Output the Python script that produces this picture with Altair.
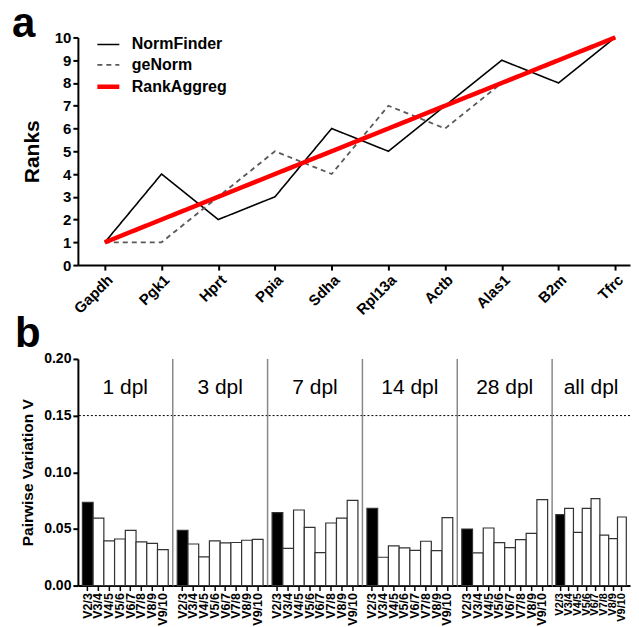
import altair as alt
import pandas as pd

FONT = "Liberation Sans"

# ---------- panel a data ----------
genes = ["Gapdh", "Pgk1", "Hprt", "Ppia", "Sdha", "Rpl13a", "Actb", "Alas1", "B2m", "Tfrc"]
normfinder = [1, 4, 2, 3, 6, 5, 7, 9, 8, 10]
genorm = [1, 1, 3, 5, 4, 7, 6, 8, 9, 10]
rankaggreg = [1, 2, 3, 4, 5, 6, 7, 8, 9, 10]
methods = ["NormFinder", "geNorm", "RankAggreg"]
method_colors = ["#000000", "#5a5a5a", "#ff0000"]
method_dash = [[1, 0], [5, 4], [1, 0]]
method_width = [1.6, 1.8, 4.5]

# ---------- panel b data ----------
pairs = ["V2/3", "V3/4", "V4/5", "V5/6", "V6/7", "V7/8", "V8/9", "V9/10"]
groups = ["1 dpl", "3 dpl", "7 dpl", "14 dpl", "28 dpl", "all dpl"]
v_1dpl = [0.0734, 0.0596, 0.0394, 0.0411, 0.0487, 0.0385, 0.0373, 0.0317]
v_3dpl = [0.0487, 0.0367, 0.0253, 0.0394, 0.0376, 0.0380, 0.0400, 0.0408]
v_7dpl = [0.0643, 0.0329, 0.0667, 0.0514, 0.0291, 0.0552, 0.0596, 0.0752]
v_14dpl = [0.0681, 0.0250, 0.0350, 0.0332, 0.0311, 0.0391, 0.0308, 0.0599]
v_28dpl = [0.0499, 0.0288, 0.0508, 0.0379, 0.0335, 0.0405, 0.0461, 0.0758]
v_all = [0.0626, 0.0681, 0.0470, 0.0681, 0.0767, 0.0446, 0.0414, 0.0605]
group_values = [v_1dpl, v_3dpl, v_7dpl, v_14dpl, v_28dpl, v_all]
cutoff = 0.15

# ---------- panel a ----------
series = {"NormFinder": normfinder, "geNorm": genorm, "RankAggreg": rankaggreg}
rows = []
for m in methods:
    for g, r in zip(genes, series[m]):
        rows.append({"gene": g, "rank": r, "method": m})
rank_df = pd.DataFrame(rows)

TOP_W, TOP_H = 553, 228

legend_kw = dict(
    title=None, orient="none", legendX=17, legendY=-5, symbolType="stroke",
    symbolSize=484, labelFontSize=16, labelFontWeight="bold", labelFont=FONT,
    labelColor="black", labelOffset=10, rowPadding=0.5, padding=0,
)

x_top = alt.X(
    "gene:N", sort=genes,
    scale=alt.Scale(type="point", padding=0.3675, align=0.646),
    axis=alt.Axis(title=None, labelAngle=-45, labelFontSize=15, labelFontWeight="bold",
                  tickSize=5, tickWidth=2, domainWidth=2, labelPadding=2),
)
y_top = alt.Y(
    "rank:Q", scale=alt.Scale(domain=[0, 10], nice=False),
    axis=alt.Axis(title="Ranks", values=list(range(11)), titleFontSize=21,
                  titleFontWeight="bold", labelFontSize=15, labelFontWeight="bold",
                  tickSize=5, tickWidth=2, domainWidth=2, labelPadding=2,
                  titlePadding=12, grid=False),
)

base = alt.Chart(rank_df).mark_line().encode(
    x=x_top, y=y_top,
    color=alt.Color("method:N", scale=alt.Scale(domain=methods, range=method_colors),
                    legend=alt.Legend(**legend_kw)),
    strokeDash=alt.StrokeDash("method:N", scale=alt.Scale(domain=methods, range=method_dash),
                              legend=alt.Legend(**legend_kw)),
    strokeWidth=alt.StrokeWidth("method:N",
                                scale=alt.Scale(type="ordinal", domain=methods, range=method_width),
                                legend=alt.Legend(**legend_kw)),
)
line_layers = [base.transform_filter(alt.datum.method == m) for m in methods]

label_a = alt.Chart(pd.DataFrame({"t": ["a"]})).mark_text(
    font=FONT, fontSize=42, fontWeight="bold", align="left", baseline="alphabetic",
    color="black",
).encode(text="t:N", x=alt.value(-66), y=alt.value(0))

top = alt.layer(*line_layers, label_a).properties(width=TOP_W, height=TOP_H)

# ---------- panel b ----------
BOT_H = 227
widths = [95, 95, 95, 95, 95, 78]

panels = []
for i, (g, vals, w) in enumerate(zip(groups, group_values, widths)):
    df = pd.DataFrame({"pair": pairs, "v": vals})
    x_enc = alt.X(
        "pair:N", sort=pairs,
        scale=alt.Scale(paddingInner=0, paddingOuter=0.42),
        axis=alt.Axis(title=None, labelAngle=-90,
                      labelFontSize=12.5 if w > 90 else 11, labelFontWeight="bold",
                      tickSize=5, tickWidth=1.5, domainWidth=2, labelPadding=2),
    )
    if i == 0:
        y_axis = alt.Axis(title="Pairwise Variation V", values=[0, 0.05, 0.1, 0.15, 0.2],
                          format=".2f", titleFontSize=15.5, titleFontWeight="bold",
                          labelFontSize=14, labelFontWeight="bold", tickSize=5,
                          tickWidth=2, domainWidth=2, labelPadding=2, titlePadding=8,
                          grid=False)
    else:
        y_axis = None
    y_enc = alt.Y("v:Q", scale=alt.Scale(domain=[0, 0.2], nice=False), axis=y_axis)

    bars = alt.Chart(df).mark_bar(stroke="#333333", strokeWidth=1.2).encode(
        x=x_enc, y=y_enc,
        fill=alt.condition(alt.datum.pair == "V2/3", alt.value("black"), alt.value("white")),
    )
    cut = alt.Chart(pd.DataFrame({"v": [cutoff]})).mark_rule(
        color="black", strokeDash=[2, 2], strokeWidth=1
    ).encode(y=alt.Y("v:Q"))
    head = alt.Chart(pd.DataFrame({"g": [g]})).mark_text(
        font=FONT, fontSize=21, align="center", baseline="alphabetic", color="black"
    ).encode(text="g:N", x=alt.value(w / 2), y=alt.value(35))
    layers = [bars, cut, head]
    if i > 0:
        sep = alt.Chart(pd.DataFrame({"s": [0]})).mark_rule(
            color="#888888", strokeWidth=1.5
        ).encode(x=alt.value(0), y=alt.value(0), y2=alt.value(BOT_H))
        layers.append(sep)
    else:
        label_b = alt.Chart(pd.DataFrame({"t": ["b"]})).mark_text(
            font=FONT, fontSize=42, fontWeight="bold", align="left",
            baseline="alphabetic", color="black",
        ).encode(text="t:N", x=alt.value(-63), y=alt.value(-12))
        layers.append(label_b)
    panels.append(alt.layer(*layers).properties(width=w, height=BOT_H))

bottom = alt.hconcat(*panels, spacing=0, bounds="flush")

chart = alt.vconcat(top, bottom, spacing=94, bounds="flush").properties(
    padding={"left": 4, "top": -5, "right": 0, "bottom": 0}
).configure_view(stroke=None).configure_axis(
    labelFont=FONT, titleFont=FONT, labelColor="black", titleColor="black",
    domainColor="black", tickColor="black",
)

chart.save("out.html", embed_options={"renderer": "svg", "actions": False})
